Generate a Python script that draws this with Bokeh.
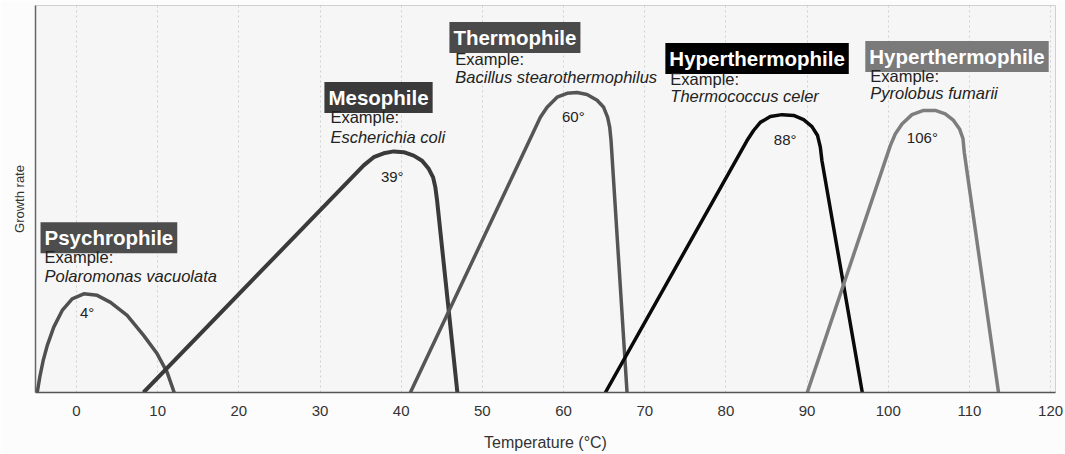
from bokeh.plotting import figure
from bokeh.models import Range1d, FixedTicker
from bokeh.embed import file_html
from bokeh.resources import INLINE
from bokeh.core.properties import value

# ---------------- data ----------------
groups = ["Psychrophile", "Mesophile", "Thermophile", "Hyperthermophile", "Hyperthermophile"]
examples = ["Polaromonas vacuolata", "Escherichia coli", "Bacillus stearothermophilus",
            "Thermococcus celer", "Pyrolobus fumarii"]
optima = [4, 39, 60, 88, 106]

x_ticks = [0, 10, 20, 30, 40, 50, 60, 70, 80, 90, 100, 110, 120]

# growth rate (relative units) vs temperature (°C)
psychro_temp = [-4.84, -4.52, -4.10, -3.61, -2.80, -1.76, -0.53, 0.90, 2.55, 4.19, 6.24, 8.29, 9.94, 11.17, 12.2]
psychro_rate = [0.0, 0.040, 0.083, 0.121, 0.169, 0.212, 0.242, 0.255, 0.251, 0.233, 0.199, 0.147, 0.100, 0.052, -0.01]

meso_temp = [8.25, 35.38, 36.61, 37.84, 39.08, 40.31, 41.54, 42.57, 43.39, 43.93, 44.21, 44.42, 46.92]
meso_rate = [0.0, 0.587, 0.608, 0.618, 0.623, 0.621, 0.612, 0.599, 0.578, 0.556, 0.530, 0.496, 0.0]

thermo_temp = [41.13, 57.14, 57.97, 59.20, 60.43, 61.66, 62.89, 64.13, 64.94, 65.43, 65.68, 65.85, 67.82]
thermo_rate = [0.0, 0.711, 0.737, 0.763, 0.773, 0.775, 0.770, 0.755, 0.737, 0.711, 0.686, 0.651, 0.0]

hyper1_temp = [65.15, 82.60, 83.41, 84.24, 85.47, 86.91, 88.34, 89.57, 90.60, 91.29, 91.63, 91.83, 96.80]
hyper1_rate = [0.0, 0.651, 0.677, 0.698, 0.713, 0.718, 0.716, 0.705, 0.687, 0.664, 0.634, 0.599, 0.0]

hyper2_temp = [90.02, 100.25, 100.86, 101.69, 102.92, 104.35, 105.79, 107.02, 108.04, 108.78, 109.20, 109.36, 113.58]
hyper2_rate = [0.0, 0.638, 0.668, 0.694, 0.718, 0.729, 0.729, 0.720, 0.703, 0.681, 0.656, 0.621, 0.0]

curves_temp = [psychro_temp, meso_temp, thermo_temp, hyper1_temp, hyper2_temp]
curves_rate = [psychro_rate, meso_rate, thermo_rate, hyper1_rate, hyper2_rate]

# ---------------- label anchors (data units) ----------------
box_x = [-4.43, 30.54, 45.94, 72.54, 97.17]
label_x = [-3.94, 31.28, 46.67, 73.15, 97.78]
title_y = [0.400, 0.762, 0.917, 0.863, 0.868]
example_y = [0.351, 0.711, 0.863, 0.811, 0.819]
species_y = [0.300, 0.659, 0.816, 0.765, 0.773]
opt_x = [1.3, 38.9, 61.2, 87.3, 104.2]
opt_y = [0.207, 0.558, 0.713, 0.654, 0.659]

# ---------------- styles ----------------
curve_colors = ["#505050", "#3a3a3a", "#555555", "#0a0a0a", "#7e7e7e"]
curve_widths = [3.5, 4, 3.5, 3.5, 3.5]
box_colors = ["#4d4d4d", "#3a3a3a", "#4a4a4a", "#000000", "#7a7a7a"]

SANS = "Liberation Sans"

p = figure(width=1065, height=454, output_backend="svg", toolbar_location=None,
           x_range=Range1d(-5.05, 120.6), y_range=Range1d(0, 1.0),
           min_border_left=35, min_border_right=10, min_border_top=5, min_border_bottom=62)
p.background_fill_color = "#f6f6f6"
p.border_fill_color = "#fcfcfc"
p.outline_line_color = "#d0d0d0"

# x axis
p.xaxis.ticker = FixedTicker(ticks=x_ticks)
p.xaxis.major_label_overrides = {t: str(t) for t in x_ticks}
p.xaxis.axis_label = "Temperature (°C)"
p.xaxis.axis_label_text_font = SANS
p.xaxis.axis_label_text_font_style = "normal"
p.xaxis.axis_label_text_font_size = "16px"
p.xaxis.axis_label_text_color = "#333333"
p.xaxis.axis_label_standoff = 15
p.xaxis.major_label_text_font = SANS
p.xaxis.major_label_text_font_size = "15px"
p.xaxis.major_label_text_color = "#333333"
p.xaxis.major_label_standoff = 7
p.xaxis.major_tick_line_color = None
p.xaxis.minor_tick_line_color = None
p.xaxis.axis_line_color = "#555555"
p.xaxis.axis_line_width = 1.5

# y axis
p.yaxis.ticker = FixedTicker(ticks=[])
p.yaxis.axis_label = "Growth rate"
p.yaxis.axis_label_text_font = SANS
p.yaxis.axis_label_text_font_style = "normal"
p.yaxis.axis_label_text_font_size = "13px"
p.yaxis.axis_label_text_color = "#333333"
p.yaxis.axis_label_standoff = 9
p.yaxis.major_label_standoff = 0
p.yaxis.major_tick_line_color = None
p.yaxis.minor_tick_line_color = None
p.yaxis.axis_line_color = "#666666"
p.yaxis.axis_line_width = 1.5

# grid
p.xgrid.grid_line_color = "#b5b5b5"
p.xgrid.grid_line_alpha = 0.55
p.xgrid.grid_line_dash = "2 3"
p.ygrid.grid_line_color = None

# curves
for t, r, c, w in zip(curves_temp, curves_rate, curve_colors, curve_widths):
    p.line(t, r, line_color=c, line_width=w, line_join="round", line_cap="butt")

# optimum labels
p.text(x=opt_x, y=opt_y, text=[f"{t}°" for t in optima],
       text_font=value(SANS), text_font_size="15px", text_color="#222222",
       text_align="center", text_baseline="alphabetic")

# group titles with boxes
for i in range(len(groups)):
    p.text(x=[box_x[i]], y=[title_y[i]], text=[groups[i]],
           text_font=value(SANS), text_font_style="bold", text_font_size="20.5px",
           text_color="white", text_align="left", text_baseline="alphabetic",
           background_fill_color=box_colors[i], padding=4)

p.text(x=label_x, y=example_y, text=["Example:"] * len(groups),
       text_font=value(SANS), text_font_size="16.5px", text_color="#222222",
       text_align="left", text_baseline="alphabetic")
p.text(x=label_x, y=species_y, text=examples,
       text_font=value(SANS), text_font_style="italic", text_font_size="16.5px",
       text_color="#222222", text_align="left", text_baseline="alphabetic")

open("out.html", "w").write(file_html(p, INLINE))
